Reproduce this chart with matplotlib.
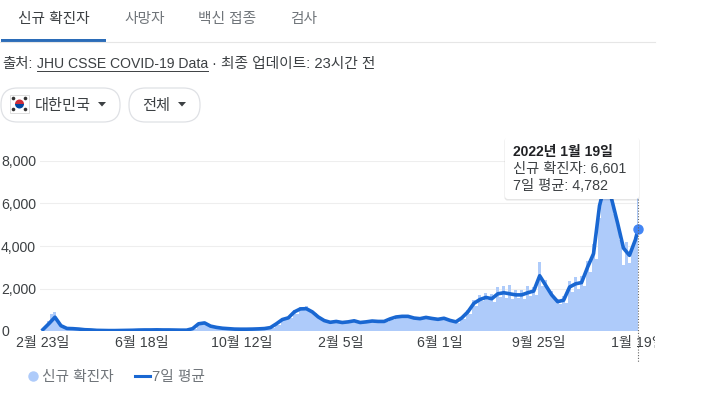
import numpy as np
import matplotlib
matplotlib.use('Agg')
import matplotlib.pyplot as plt
from matplotlib.lines import Line2D
from matplotlib.patches import Circle, FancyBboxPatch, Polygon, Rectangle, Wedge
from matplotlib.transforms import Bbox

# latin and digits look like Arial in the original, hangul falls through
plt.rcParams['font.family'] = ['Liberation Sans', 'Noto Sans CJK KR']

W, H = 701, 394

# days since 2020-02-23, weekly average values
avg_days = [7 * i for i in range(100)] + [696]
avg_values = [70, 350, 650, 250, 120, 110, 90, 60, 50, 30,
              25, 20, 20, 25, 30, 35, 45, 50, 50, 55,
              50, 50, 45, 40, 40, 110, 340, 380, 230, 170,
              130, 110, 90, 85, 85, 90, 100, 115, 160, 340,
              540, 620, 900, 1040, 1050, 900, 660, 490, 410, 450,
              400, 430, 480, 400, 430, 470, 450, 450, 570, 660,
              690, 690, 610, 580, 640, 590, 550, 600, 500, 430,
              620, 900, 1300, 1480, 1580, 1520, 1750, 1800, 1750, 1700,
              1700, 1800, 1880, 2600, 2150, 1700, 1380, 1450, 2070, 2220,
              2280, 3000, 3640, 5900, 7000, 6230, 5100, 3900, 3560, 4300,
              4782]

# new cases, one value every 3.5 days
case_values = [50, 200, 480, 800, 880, 500, 250, 130, 110, 100,
               130, 90, 100, 70, 70, 50, 50, 40, 30, 30,
               30, 20, 20, 20, 25, 20, 30, 20, 35, 25,
               40, 30, 45, 30, 55, 40, 55, 45, 60, 50,
               60, 50, 60, 50, 60, 45, 55, 45, 50, 40,
               50, 100, 300, 380, 420, 350, 260, 210, 180, 150,
               140, 120, 120, 100, 100, 80, 90, 80, 90, 80,
               100, 80, 110, 90, 130, 100, 200, 140, 400, 300,
               600, 500, 650, 600, 1000, 800, 1150, 1000, 1180, 1000,
               950, 850, 720, 600, 520, 450, 440, 380, 520, 420,
               430, 370, 470, 400, 540, 450, 430, 370, 460, 400,
               500, 440, 480, 420, 480, 430, 620, 530, 700, 640,
               730, 650, 740, 640, 640, 570, 610, 550, 680, 600,
               630, 560, 600, 510, 650, 570, 530, 460, 470, 400,
               680, 570, 980, 820, 1450, 1200, 1700, 1400, 1800, 1450,
               1750, 1350, 2050, 1600, 2100, 1550, 2150, 1500, 1950, 1550,
               1950, 1500, 2100, 1650, 2050, 1700, 3250, 2100, 2400, 1900,
               1900, 1500, 1500, 1250, 1650, 1300, 2350, 1850, 2550, 2000,
               2600, 2100, 3300, 2800, 4100, 3400, 5300, 7000, 7800, 6500,
               6700, 5500, 5000, 4300, 3100, 4200, 3200, 3900, 4400, 6601]
case_days = [3.5 * i for i in range(len(case_values))]

x_ticks = [0, 116, 232, 348, 464, 580, 696]
x_labels = ['2월 23일', '6월 18일', '10월 12일', '2월 5일', '6월 1일', '9월 25일', '1월 19일']
y_ticks = [0, 2000, 4000, 6000, 8000]
y_labels = ['0', '2,000', '4,000', '6,000', '8,000']

BAR = '#aecbfa'
LINE = '#1967d2'
GRAY = '#70757a'
DARK = '#3c4043'

fig = plt.figure(figsize=(W / 100, H / 100), dpi=100)

# chart axes: px 40..638 across, px 331..161 up
ax = fig.add_axes([40 / W, (H - 331) / H, 598 / W, 170 / H])
ax.bar(case_days, case_values, width=3.6, color=BAR, linewidth=0, zorder=2)
ax.plot(avg_days, avg_values, color=LINE, lw=2.6, zorder=3, solid_joinstyle='round')
ax.plot(avg_days[-1], avg_values[-1], 'o', ms=6.5, color='#4285f4', clip_on=False, zorder=4)
ax.set_xlim(-3.5, 696)
ax.set_ylim(0, 8000)
ax.set_xticks(x_ticks, x_labels)
ax.set_yticks(y_ticks, y_labels)
ax.tick_params(length=0, labelsize=10.2, labelcolor=DARK)
ax.tick_params(axis='x', pad=3.7)
ax.tick_params(axis='y', pad=28)
for lab in ax.get_yticklabels():
    lab.set_ha('left')
ax.grid(axis='y', color='#eeeeee', lw=0.8, zorder=0)
ax.set_axisbelow(True)
for s in ax.spines.values():
    s.set_visible(False)

# last tick label is cut off at the card edge in the original
clip = Bbox([[0, 0], [655, H]])
ax.get_xticklabels()[-1].set_clip_box(clip)
ax.get_xticklabels()[-1].set_clip_on(True)

# overlay in pixel coordinates for the page parts around the chart
ui = fig.add_axes([0, 0, 1, 1], zorder=5)
ui.set_xlim(0, W)
ui.set_ylim(H, 0)
ui.axis('off')
ui.patch.set_alpha(0)

# tabs
ui.plot([0, 655], [41.5, 41.5], color='#e6e6e6', lw=0.8)
ui.add_patch(Rectangle((1, 39), 105, 2.5, color='#2b6cb8', lw=0))
ui.text(18, 19, '신규 확진자', fontsize=10.6, color=DARK, va='center')
ui.text(124, 19, '사망자', fontsize=10.6, color=GRAY, va='center')
ui.text(198, 19, '백신 접종', fontsize=10.6, color=GRAY, va='center')
ui.text(290, 19, '검사', fontsize=10.6, color=GRAY, va='center')

# source line
ui.text(2, 64, '출처:', fontsize=10.4, color=DARK, va='center')
ui.text(37, 64, 'JHU CSSE COVID-19 Data', fontsize=10.1, color=DARK, va='center')
ui.plot([37, 208], [70.5, 70.5], color=DARK, lw=0.7)
ui.text(212, 64, '· 최종 업데이트: 23시간 전', fontsize=10.6, color=DARK, va='center')

# filter pills
for x0, x1 in [(1, 120), (129, 200)]:
    ui.add_patch(FancyBboxPatch((x0, 88), x1 - x0, 34,
                                boxstyle='round,pad=0,rounding_size=16.5',
                                fc='white', ec='#dfe1e5', lw=0.9))
ui.text(35, 106, '대한민국', fontsize=11, color=DARK, va='center')
ui.text(142, 106, '전체', fontsize=11, color=DARK, va='center')
for cx in [102, 182]:
    ui.add_patch(Polygon([(cx - 4, 102), (cx + 4, 102), (cx, 106.5)], color=DARK, lw=0))

# flag
ui.add_patch(Rectangle((10, 95), 19, 18, fc='white', ec='#dddddd', lw=0.7))
ui.add_patch(Wedge((19.5, 104), 4.5, 180, 360, color='#cd2e3a', lw=0))
ui.add_patch(Wedge((19.5, 104), 4.5, 0, 180, color='#0047a0', lw=0))
for fx, fy in [(13.5, 98.5), (25.5, 98.5), (13.5, 109.5), (25.5, 109.5)]:
    ui.add_patch(Circle((fx, fy), 1.8, color='#333333', lw=0))

# hover line and tooltip
ui.plot([638, 638], [199, 362], color='#666666', lw=0.8, ls=(0, (1, 1.5)))
ui.add_patch(FancyBboxPatch((504.5, 138), 135, 62.5, boxstyle='round,pad=0,rounding_size=3',
                            fc='#000000', ec='none', alpha=0.1, zorder=6))
ui.add_patch(FancyBboxPatch((505, 137), 134, 62, boxstyle='round,pad=0,rounding_size=3',
                            fc='white', ec='none', zorder=7))
ui.text(513, 152, '2022년 1월 19일', fontsize=10, fontweight='bold', color='#202124',
        va='center', zorder=8)
ui.text(513, 169, '신규 확진자: 6,601', fontsize=10.3, color=DARK, va='center', zorder=8)
ui.text(513, 186, '7일 평균: 4,782', fontsize=10.3, color=DARK, va='center', zorder=8)

# legend
handles = [Line2D([], [], ls='', marker='o', ms=6.5, color=BAR, label='신규 확진자'),
           Line2D([], [], color=LINE, lw=2.2, label='7일 평균')]
fig.legend(handles=handles, ncol=2, frameon=False, fontsize=10.6, labelcolor=GRAY,
           loc='center left', bbox_to_anchor=(18 / W, (H - 377) / H),
           handlelength=1.0, handletextpad=0.15, columnspacing=1.45, borderpad=0)

fig.savefig('out.png', dpi=100)
